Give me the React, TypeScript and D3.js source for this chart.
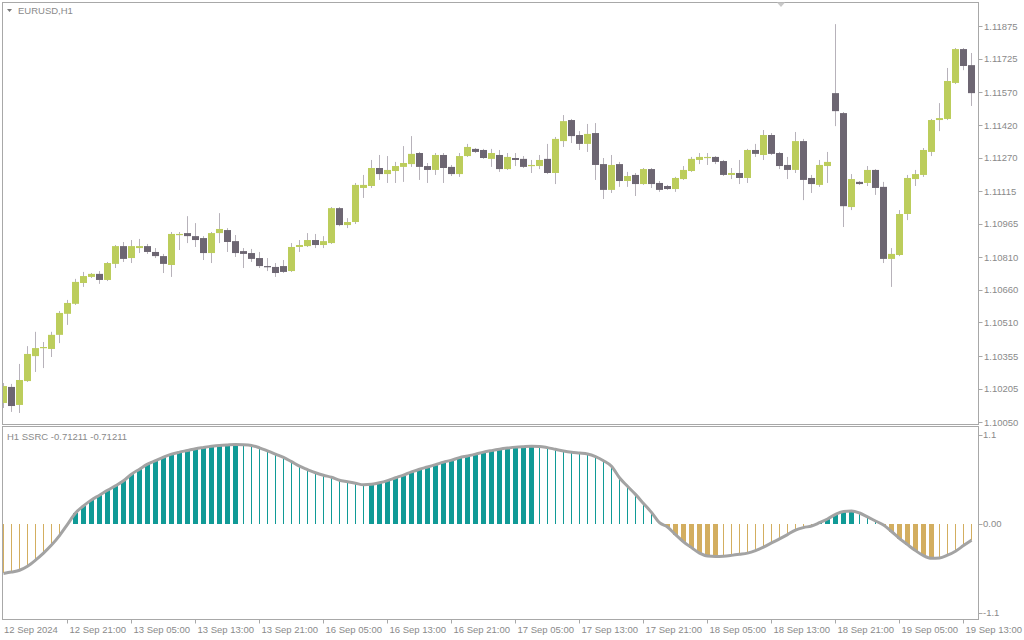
import * as React from "react";
import * as d3 from "d3";

// EURUSD H1 candles, bar 0 = 12 Sep 2024 13:00
const opens = [
  1.10139, 1.10213, 1.10130, 1.10240, 1.10355, 1.10392, 1.10388, 1.10453, 1.10550, 1.10596,
  1.10692, 1.10720, 1.10734, 1.10706, 1.10780, 1.10862, 1.10807, 1.10853, 1.10862, 1.10835,
  1.10816, 1.10775, 1.10913, 1.10922, 1.10908, 1.10899, 1.10830, 1.10922, 1.10936, 1.10885,
  1.10839, 1.10830, 1.10807, 1.10770, 1.10766, 1.10770, 1.10747, 1.10858, 1.10862, 1.10890,
  1.10867, 1.10876, 1.11037, 1.10959, 1.10973, 1.11130, 1.11139, 1.11222, 1.11194, 1.11208,
  1.11227, 1.11240, 1.11291, 1.11231, 1.11213, 1.11282, 1.11227, 1.11194, 1.11277, 1.11310,
  1.11305, 1.11264, 1.11282, 1.11217, 1.11268, 1.11264, 1.11231, 1.11231, 1.11264, 1.11199,
  1.11346, 1.11443, 1.11374, 1.11333, 1.11383, 1.11240, 1.11121, 1.11240, 1.11162, 1.11190,
  1.11148, 1.11217, 1.11153, 1.11139, 1.11125, 1.11171, 1.11208, 1.11259, 1.11268, 1.11273,
  1.11254, 1.11190, 1.11199, 1.11176, 1.11305, 1.11282, 1.11374, 1.11291, 1.11236, 1.11213,
  1.11346, 1.11176, 1.11144, 1.11231, 1.11567, 1.11475, 1.11042, 1.11158, 1.11153, 1.11213,
  1.11135, 1.10803, 1.10821, 1.11010, 1.11171, 1.11190, 1.11296, 1.11443, 1.11448, 1.11614,
  1.11770, 1.11696,
];
const highs = [
  1.10231, 1.10227, 1.10319, 1.10401, 1.10467, 1.10420, 1.10467, 1.10563, 1.10614, 1.10711,
  1.10743, 1.10738, 1.10747, 1.10789, 1.10867, 1.10881, 1.10890, 1.10895, 1.10872, 1.10853,
  1.10826, 1.10927, 1.10927, 1.11000, 1.10968, 1.10908, 1.10927, 1.11014, 1.10945, 1.10913,
  1.10853, 1.10849, 1.10835, 1.10807, 1.10784, 1.10798, 1.10876, 1.10890, 1.10922, 1.10918,
  1.10908, 1.11042, 1.11042, 1.10991, 1.11153, 1.11190, 1.11259, 1.11282, 1.11277, 1.11250,
  1.11323, 1.11369, 1.11296, 1.11245, 1.11291, 1.11291, 1.11236, 1.11291, 1.11333, 1.11314,
  1.11310, 1.11310, 1.11305, 1.11291, 1.11291, 1.11277, 1.11259, 1.11282, 1.11333, 1.11365,
  1.11466, 1.11448, 1.11392, 1.11425, 1.11429, 1.11268, 1.11282, 1.11250, 1.11204, 1.11199,
  1.11222, 1.11222, 1.11162, 1.11144, 1.11181, 1.11231, 1.11273, 1.11291, 1.11291, 1.11277,
  1.11259, 1.11222, 1.11259, 1.11310, 1.11333, 1.11397, 1.11383, 1.11296, 1.11273, 1.11388,
  1.11356, 1.11190, 1.11259, 1.11296, 1.11885, 1.11480, 1.11194, 1.11162, 1.11231, 1.11217,
  1.11158, 1.10853, 1.11028, 1.11190, 1.11213, 1.11314, 1.11448, 1.11521, 1.11683, 1.11775,
  1.11775, 1.11752,
];
const lows = [
  1.10116, 1.10098, 1.10093, 1.10236, 1.10282, 1.10300, 1.10351, 1.10415, 1.10499, 1.10591,
  1.10674, 1.10715, 1.10688, 1.10701, 1.10761, 1.10789, 1.10784, 1.10830, 1.10826, 1.10807,
  1.10738, 1.10720, 1.10844, 1.10876, 1.10858, 1.10798, 1.10784, 1.10876, 1.10835, 1.10812,
  1.10761, 1.10789, 1.10761, 1.10747, 1.10720, 1.10738, 1.10743, 1.10835, 1.10858, 1.10853,
  1.10853, 1.10872, 1.10954, 1.10945, 1.10964, 1.11084, 1.11130, 1.11167, 1.11153, 1.11153,
  1.11158, 1.11227, 1.11167, 1.11153, 1.11190, 1.11153, 1.11185, 1.11181, 1.11273, 1.11291,
  1.11264, 1.11227, 1.11204, 1.11213, 1.11231, 1.11222, 1.11199, 1.11217, 1.11194, 1.11148,
  1.11319, 1.11337, 1.11305, 1.11296, 1.11167, 1.11079, 1.11107, 1.11135, 1.11135, 1.11093,
  1.11144, 1.11130, 1.11112, 1.11121, 1.11112, 1.11167, 1.11204, 1.11240, 1.11236, 1.11240,
  1.11185, 1.11171, 1.11148, 1.11153, 1.11273, 1.11259, 1.11282, 1.11217, 1.11171, 1.11199,
  1.11074, 1.11107, 1.11135, 1.11153, 1.11415, 1.10950, 1.11028, 1.11144, 1.11139, 1.11098,
  1.10784, 1.10674, 1.10816, 1.10982, 1.11139, 1.11181, 1.11277, 1.11392, 1.11443, 1.11609,
  1.11673, 1.11508,
];
const closes = [
  1.10217, 1.10125, 1.10245, 1.10365, 1.10392, 1.10397, 1.10453, 1.10554, 1.10600, 1.10697,
  1.10724, 1.10734, 1.10706, 1.10784, 1.10862, 1.10803, 1.10862, 1.10862, 1.10835, 1.10816,
  1.10780, 1.10918, 1.10918, 1.10908, 1.10890, 1.10830, 1.10922, 1.10941, 1.10881, 1.10830,
  1.10826, 1.10803, 1.10770, 1.10766, 1.10738, 1.10743, 1.10858, 1.10867, 1.10890, 1.10867,
  1.10885, 1.11037, 1.10959, 1.10973, 1.11144, 1.11144, 1.11222, 1.11194, 1.11213, 1.11231,
  1.11245, 1.11287, 1.11227, 1.11213, 1.11282, 1.11222, 1.11194, 1.11277, 1.11319, 1.11296,
  1.11268, 1.11291, 1.11217, 1.11273, 1.11259, 1.11227, 1.11236, 1.11259, 1.11199, 1.11356,
  1.11438, 1.11369, 1.11333, 1.11379, 1.11236, 1.11121, 1.11236, 1.11162, 1.11185, 1.11148,
  1.11217, 1.11148, 1.11121, 1.11125, 1.11176, 1.11213, 1.11264, 1.11273, 1.11273, 1.11250,
  1.11190, 1.11199, 1.11176, 1.11305, 1.11287, 1.11374, 1.11287, 1.11231, 1.11213, 1.11346,
  1.11167, 1.11148, 1.11236, 1.11250, 1.11484, 1.11046, 1.11171, 1.11148, 1.11213, 1.11130,
  1.10803, 1.10826, 1.11010, 1.11176, 1.11194, 1.11305, 1.11443, 1.11452, 1.11623, 1.11770,
  1.11692, 1.11567,
];

// SSRC oscillator, one value per bar
const ssrc = [
  -0.617, -0.600, -0.578, -0.528, -0.453, -0.366, -0.267, -0.149, -0.010, 0.130,
  0.217, 0.292, 0.350, 0.410, 0.466, 0.528, 0.609, 0.671, 0.733, 0.776,
  0.820, 0.857, 0.882, 0.903, 0.925, 0.940, 0.954, 0.965, 0.971, 0.975,
  0.973, 0.965, 0.935, 0.897, 0.857, 0.816, 0.764, 0.708, 0.667, 0.627,
  0.596, 0.571, 0.534, 0.516, 0.497, 0.478, 0.484, 0.503, 0.530, 0.565,
  0.599, 0.637, 0.671, 0.698, 0.727, 0.758, 0.783, 0.814, 0.835, 0.857,
  0.882, 0.901, 0.918, 0.932, 0.944, 0.950, 0.954, 0.953, 0.938, 0.917,
  0.897, 0.881, 0.870, 0.858, 0.826, 0.776, 0.708, 0.565, 0.460, 0.360,
  0.248, 0.137, 0.010, -0.043, -0.137, -0.227, -0.298, -0.366, -0.401, -0.407,
  -0.404, -0.394, -0.381, -0.366, -0.335, -0.292, -0.240, -0.190, -0.137, -0.081,
  -0.050, -0.031, 0.010, 0.056, 0.112, 0.149, 0.155, 0.130, 0.081, 0.031,
  -0.019, -0.099, -0.186, -0.261, -0.335, -0.398, -0.431, -0.426, -0.391, -0.342,
  -0.273, -0.205,
];

const priceTicks = [
  1.11875, 1.11725, 1.1157, 1.1142, 1.1127, 1.11115, 1.10965, 1.1081, 1.1066, 1.1051,
  1.10355, 1.10205, 1.1005,
];
const oscTicks = [
  { v: 1.1, label: "1.1" },
  { v: 0, label: "0.00" },
  { v: -1.1, label: "-1.1" },
];
const timeTicks = [
  { bar: 8, label: "12 Sep 21:00" },
  { bar: 16, label: "13 Sep 05:00" },
  { bar: 24, label: "13 Sep 13:00" },
  { bar: 32, label: "13 Sep 21:00" },
  { bar: 40, label: "16 Sep 05:00" },
  { bar: 48, label: "16 Sep 13:00" },
  { bar: 56, label: "16 Sep 21:00" },
  { bar: 64, label: "17 Sep 05:00" },
  { bar: 72, label: "17 Sep 13:00" },
  { bar: 80, label: "17 Sep 21:00" },
  { bar: 88, label: "18 Sep 05:00" },
  { bar: 96, label: "18 Sep 13:00" },
  { bar: 104, label: "18 Sep 21:00" },
  { bar: 112, label: "19 Sep 05:00" },
  { bar: 120, label: "19 Sep 13:00" },
];

const W = 1024, H = 640;
const left = 2.5, right = 978.5;
const mainTop = 2.5, mainBottom = 424.5;
const oscTop = 426.5, oscBottom = 619.5;

const bull = "#bccd5c";
const bear = "#6d6672";
const wick = "#b7b2ba";
const teal = "#109a96";
const gold = "#d3ae60";
const txt = "#8a8a8a";
const frame = "#a8a8a8";
const font = "'Liberation Sans', Arial, sans-serif";

export default function App() {
  const x = d3.scaleLinear().domain([0, opens.length - 1]).range([3.5, 3.5 + 8 * (opens.length - 1)]);
  const y = d3.scaleLinear().domain([1.1005, 1.11875]).range([422.3, 26.3]);
  const yo = d3.scaleLinear().domain([-1.1, 1.1]).range([612.5, 434.5]);

  const line = d3.line<number>()
    .x((_, i) => x(i))
    .y((d) => yo(d))
    .curve(d3.curveMonotoneX);

  return (
    <div style={{ position: "absolute", left: 0, top: 0, background: "#fff" }}>
      <svg width={W} height={H} style={{ display: "block", fontFamily: font }}>
        <defs>
          <clipPath id="mainClip">
            <rect x={left} y={mainTop} width={right - left} height={mainBottom - mainTop} />
          </clipPath>
          <clipPath id="oscClip">
            <rect x={left} y={oscTop} width={right - left} height={oscBottom - oscTop} />
          </clipPath>
        </defs>
        <rect width={W} height={H} fill="#fff" />

        {/* candles */}
        <g clipPath="url(#mainClip)">
          {opens.map((o, i) => {
            const c = closes[i];
            const cx = x(i);
            const top = y(Math.max(o, c));
            const bot = y(Math.min(o, c));
            return (
              <g key={i}>
                <rect x={cx - 0.5} y={y(highs[i])} width={1} height={y(lows[i]) - y(highs[i])} fill={wick} />
                <rect x={cx - 3.5} y={top} width={7} height={Math.max(1.2, bot - top)} fill={c >= o ? bull : bear} />
              </g>
            );
          })}
        </g>

        {/* oscillator histogram + line */}
        <g clipPath="url(#oscClip)">
          {ssrc.map((v, i) => {
            const prev = i > 0 ? ssrc[i - 1] : v;
            const growing = v >= 0 ? v > prev : v < prev;
            const color = v >= 0 ? teal : gold;
            const cx = x(i);
            const y0 = yo(0), y1 = yo(v);
            const w = growing ? 5 : 1;
            return (
              <rect key={i} x={cx - w / 2} y={Math.min(y0, y1)} width={w}
                height={Math.abs(y1 - y0)} fill={color} shapeRendering="crispEdges" />
            );
          })}
          <path d={line(ssrc) || ""} fill="none" stroke="#a3a3a3" strokeWidth={3} strokeLinejoin="round" />
        </g>

        {/* frames */}
        <rect x={left} y={mainTop} width={right - left} height={mainBottom - mainTop} fill="none" stroke={frame} />
        <rect x={left} y={oscTop} width={right - left} height={oscBottom - oscTop} fill="none" stroke={frame} />

        {/* shift marker */}
        <path d="M777,2.5 L785,2.5 L781,7 Z" fill="#c9c9c9" />

        {/* titles */}
        <path d="M7,9 L12,9 L9.5,12 Z" fill="#777" />
        <text x={18} y={14} fontSize={9.5} fill={txt}>EURUSD,H1</text>
        <text x={7} y={439.5} fontSize={9.5} fill={txt}>H1 SSRC -0.71211 -0.71211</text>

        {/* price axis */}
        {priceTicks.map((p) => (
          <g key={p}>
            <line x1={right} x2={right + 4} y1={Math.round(y(p)) + 0.5} y2={Math.round(y(p)) + 0.5} stroke={frame} />
            <text x={984} y={y(p) + 3.5} fontSize={9.5} fill={txt}>{p.toFixed(5)}</text>
          </g>
        ))}

        {/* oscillator axis */}
        {oscTicks.map((t) => (
          <g key={t.label}>
            <line x1={right} x2={right + 4} y1={Math.round(yo(t.v)) + 0.5} y2={Math.round(yo(t.v)) + 0.5} stroke={frame} />
            <text x={983} y={yo(t.v) + 3.5} fontSize={9.5} fill={txt}>{t.label}</text>
          </g>
        ))}

        {/* time axis */}
        <text x={4} y={633} fontSize={9.5} fill={txt}>12 Sep 2024</text>
        {timeTicks.map((t) => (
          <g key={t.bar}>
            <line x1={x(t.bar)} x2={x(t.bar)} y1={oscBottom} y2={oscBottom + 4} stroke={frame} />
            <text x={x(t.bar) + 2} y={633} fontSize={9.5} fill={txt}>{t.label}</text>
          </g>
        ))}
      </svg>
    </div>
  );
}
